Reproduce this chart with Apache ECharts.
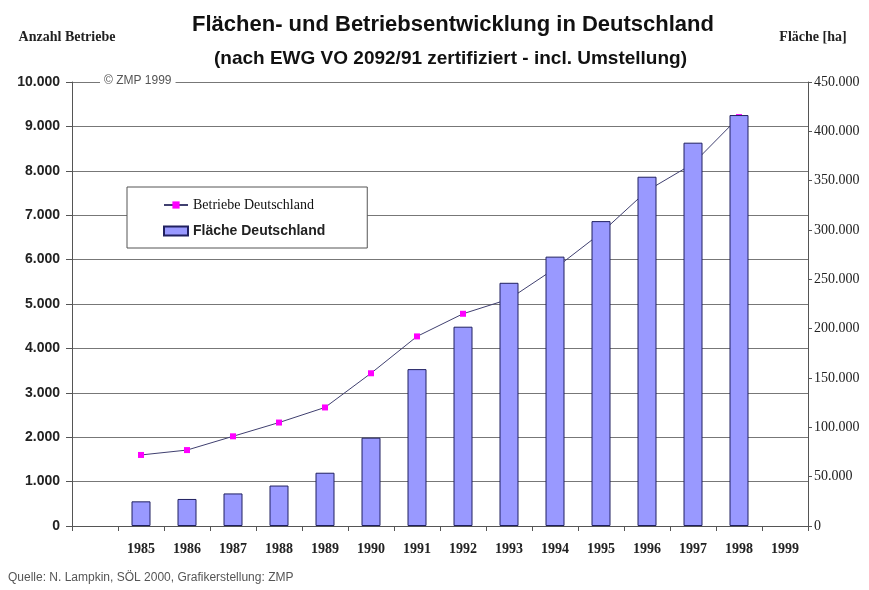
<!DOCTYPE html>
<html>
<head>
<meta charset="utf-8">
<script src="https://cdn.jsdelivr.net/npm/echarts@6/dist/echarts.min.js"></script>
<style>
  html, body { margin: 0; padding: 0; background: #fff; }
  #chart { width: 869px; height: 590px; }
</style>
</head>
<body>
<div id="chart"></div>
<script>
// Jahre (erste Kategorie leer, wie im Original)
var years = ['', '1985', '1986', '1987', '1988', '1989', '1990', '1991', '1992', '1993', '1994', '1995', '1996', '1997', '1998', '1999'];
// Anzahl Betriebe (linke Achse)
var betriebe = [null, 1600, 1710, 2020, 2330, 2670, 3440, 4270, 4780, 5110, 5800, 6600, 7550, 8160, 9210, null];
// Fläche in ha (rechte Achse)
var flaeche = [null, 25000, 27400, 33000, 41000, 54000, 89500, 159000, 202000, 246500, 273000, 309000, 354000, 388500, 416500, null];
var leftTicks = [0, 10000, 1000];
var rightTicks = [0, 450000, 50000];

function fmt(v) {
    return String(v).replace(/\B(?=(\d{3})+(?!\d))/g, '.');
}

var myChart = echarts.init(document.getElementById('chart'));
var option = {
    backgroundColor: '#fff',
    animation: false,
    title: [{
        text: 'Flächen- und Betriebsentwicklung in Deutschland',
        left: 187,
        top: 9,
        textStyle: { fontFamily: 'Liberation Sans', fontSize: 22, fontWeight: 'bold', color: '#111' }
    }, {
        text: '(nach EWG VO 2092/91 zertifiziert - incl. Umstellung)',
        left: 209,
        top: 44,
        textStyle: { fontFamily: 'Liberation Sans', fontSize: 19, fontWeight: 'bold', color: '#111' }
    }],
    legend: {
        orient: 'vertical',
        left: 127,
        top: 187,
        padding: [11, 42, 10, 36],
        itemGap: 12,
        itemWidth: 24,
        itemHeight: 9,
        backgroundColor: '#fff',
        borderColor: '#555',
        borderWidth: 1,
        data: [
            { name: 'Betriebe Deutschland', textStyle: { fontFamily: 'Liberation Serif', fontSize: 14, color: '#111' } },
            { name: 'Fläche Deutschland', icon: 'rect', textStyle: { fontFamily: 'Liberation Sans', fontSize: 14, fontWeight: 'bold', color: '#222' } }
        ]
    },
    grid: { left: 72, right: 61, top: 82, bottom: 64 },
    xAxis: {
        type: 'category',
        data: years,
        boundaryGap: true,
        axisLine: { lineStyle: { color: '#555' } },
        axisTick: { show: true, length: 5, lineStyle: { color: '#555' } },
        axisLabel: { fontFamily: 'Liberation Serif', fontSize: 14, fontWeight: 'bold', color: '#222', margin: 16 }
    },
    yAxis: [{
        type: 'value',
        position: 'left',
        min: leftTicks[0],
        max: leftTicks[1],
        interval: leftTicks[2],
        name: 'Anzahl Betriebe',
        nameLocation: 'end',
        nameGap: 38,
        nameTextStyle: { fontFamily: 'Liberation Serif', fontSize: 14, fontWeight: 'bold', color: '#222', align: 'center', padding: [0, 0, 0, -10] },
        axisLine: { show: true, lineStyle: { color: '#555' } },
        axisTick: { show: true, length: 6, lineStyle: { color: '#555' } },
        axisLabel: { fontFamily: 'Liberation Sans', fontSize: 14, fontWeight: 'bold', color: '#222', margin: 12, formatter: fmt },
        splitLine: { show: true, lineStyle: { color: '#777', width: 1 } }
    }, {
        type: 'value',
        position: 'right',
        min: rightTicks[0],
        max: rightTicks[1],
        interval: rightTicks[2],
        name: 'Fläche [ha]',
        nameLocation: 'end',
        nameGap: 38,
        nameTextStyle: { fontFamily: 'Liberation Serif', fontSize: 14, fontWeight: 'bold', color: '#222', align: 'center', padding: [0, 0, 0, 10] },
        axisLine: { show: true, lineStyle: { color: '#555' } },
        axisTick: { show: true, length: 4, lineStyle: { color: '#555' } },
        axisLabel: { fontFamily: 'Liberation Serif', fontSize: 14, color: '#222', margin: 6, formatter: fmt },
        splitLine: { show: false }
    }],
    graphic: [{
        type: 'text',
        left: 100,
        top: 74,
        z: 10,
        style: {
            text: '© ZMP 1999',
            fontFamily: 'Liberation Sans',
            fontSize: 12,
            fill: '#555',
            backgroundColor: '#fff',
            padding: [1, 4, 1, 4]
        }
    }, {
        type: 'text',
        left: 8,
        top: 572,
        style: {
            text: 'Quelle: N. Lampkin, SÖL 2000, Grafikerstellung: ZMP',
            fontFamily: 'Liberation Sans',
            fontSize: 12,
            fill: '#555'
        }
    }],
    series: [{
        name: 'Fläche Deutschland',
        type: 'bar',
        yAxisIndex: 1,
        data: flaeche,
        barWidth: 19,
        z: 3,
        itemStyle: { color: '#9999ff', borderColor: '#202060', borderWidth: 1 }
    }, {
        name: 'Betriebe Deutschland',
        type: 'line',
        yAxisIndex: 0,
        data: betriebe,
        z: 2,
        symbol: 'rect',
        symbolSize: 6,
        connectNulls: false,
        lineStyle: { color: '#404070', width: 1 },
        itemStyle: { color: '#ff00ff', borderWidth: 0 }
    }]
};
myChart.setOption(option);
</script>
</body>
</html>
